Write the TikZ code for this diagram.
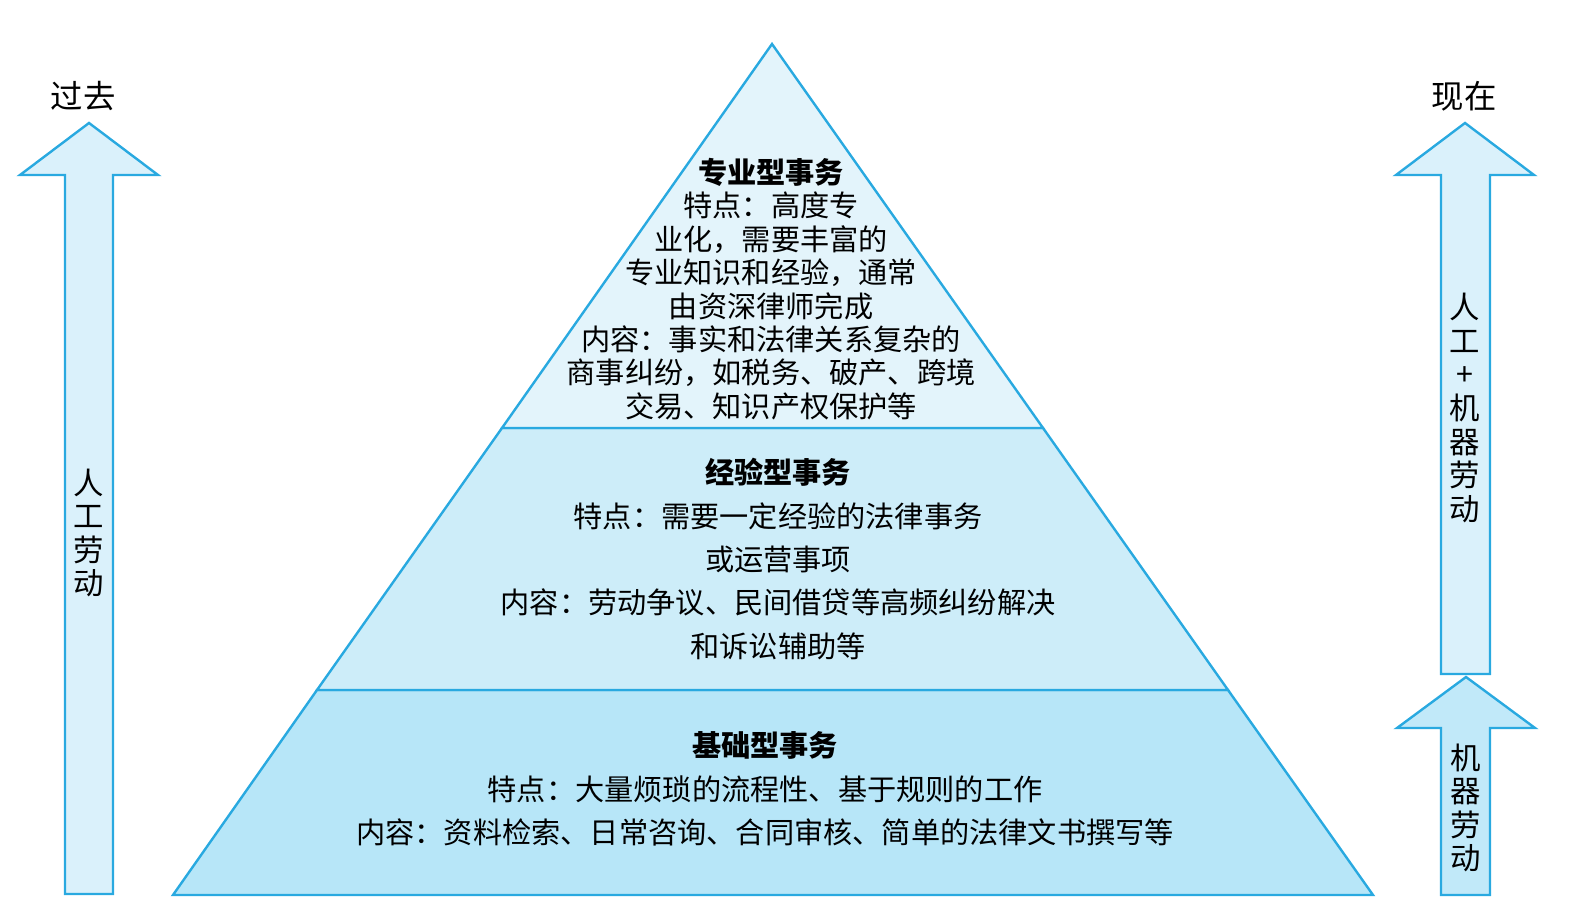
\documentclass[tikz,border=0pt]{standalone}
\usepackage{fontspec}
\setmainfont{Noto Sans CJK SC}
\usetikzlibrary{positioning}
\definecolor{lineblue}{RGB}{41,169,224}
\definecolor{tiertop}{RGB}{227,244,251}
\definecolor{tiermid}{RGB}{205,237,249}
\definecolor{tierbot}{RGB}{183,230,248}
\definecolor{arrowpale}{RGB}{218,241,251}
\definecolor{arrowdeep}{RGB}{193,233,249}
\tikzstyle{tier} = [draw=lineblue, line width=1.2pt, line join=miter]
\tikzstyle{bigarrow} = [draw=lineblue, line width=1.2pt, line join=miter, fill=arrowpale]
\tikzstyle{tiertext} = [align=center, inner sep=0pt, font=\fontsize{14.6}{16.7}\selectfont]
\tikzstyle{widetext} = [align=center, inner sep=0pt, font=\fontsize{14.6}{21.7}\selectfont]
\tikzstyle{vtext} = [align=center, inner sep=0pt, font=\fontsize{15.2}{16.8}\selectfont]
\tikzstyle{timetext} = [inner sep=0pt, font=\fontsize{16.2}{18}\selectfont]

\begin{document}
\begin{tikzpicture}[x=0.5pt, y=-0.5pt]
        \useasboundingbox (0,0) rectangle (1584,913);
        % pyramid
        \coordinate (apex) at (772,44);
        \coordinate (topL) at (502,428);
        \coordinate (topR) at (1043,428);
        \coordinate (midL) at (317,690);
        \coordinate (midR) at (1228,690);
        \coordinate (baseL) at (173,895);
        \coordinate (baseR) at (1373,895);
        \filldraw [tier, fill=tierbot] (midL) -- (midR) -- (baseR) -- (baseL) -- cycle;
        \filldraw [tier, fill=tiermid] (topL) -- (topR) -- (midR) -- (midL) -- cycle;
        \filldraw [tier, fill=tiertop] (apex) -- (topR) -- (topL) -- cycle;

        \node [tiertext] (expert) at (771,289) {\bfseries 专业型事务\\特点：高度专\\业化，需要丰富的\\专业知识和经验，通常\\由资深律师完成\\内容：事实和法律关系复杂的\\商事纠纷，如税务、破产、跨境\\交易、知识产权保护等};
        \node [widetext] (skilled) at (778,559) {\bfseries 经验型事务\\特点：需要一定经验的法律事务\\或运营事项\\内容：劳动争议、民间借贷等高频纠纷解决\\和诉讼辅助等};
        \node [widetext] (basic) at (765,789) {\bfseries 基础型事务\\特点：大量烦琐的流程性、基于规则的工作\\内容：资料检索、日常咨询、合同审核、简单的法律文书撰写等};

        % arrows
        \filldraw [bigarrow] (89,123) -- (158,175) -- (113,175) -- (113,894) -- (65,894) -- (65,175) -- (20,175) -- cycle;
        \filldraw [bigarrow] (1465,123) -- (1534,175) -- (1490,175) -- (1490,674) -- (1441,674) -- (1441,175) -- (1396,175) -- cycle;
        \filldraw [bigarrow, fill=arrowdeep] (1466,677) -- (1535,728) -- (1490,728) -- (1490,895) -- (1441,895) -- (1441,728) -- (1397,728) -- cycle;

        \node [timetext] (past) at (83,96) {过去};
        \node [timetext] (now) at (1464,96) {现在};
        \node [vtext] (manual) at (89,533) {人\\工\\劳\\动};
        \node [vtext] (mixed) at (1465,408) {人\\工\\+\\机\\器\\劳\\动};
        \node [vtext] (machine) at (1466,808) {机\\器\\劳\\动};
    \end{tikzpicture}
\end{document}
